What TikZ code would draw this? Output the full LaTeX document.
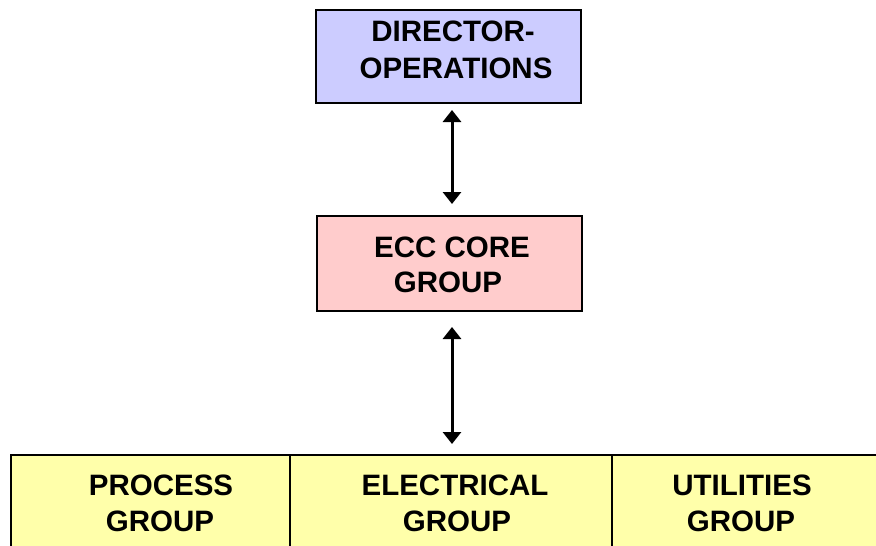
\documentclass[tikz,border=0pt]{standalone}
\usepackage{fontspec}
\setmainfont{Liberation Sans}
\usetikzlibrary{arrows.meta}
\definecolor{lav}{RGB}{204,204,255}
\definecolor{pinkc}{RGB}{255,204,204}
\definecolor{yel}{RGB}{255,255,170}
\begin{document}
\begin{tikzpicture}[x=1pt,y=-1pt,
  box/.style={draw=black,line width=2pt,inner sep=0pt,anchor=north west},
  lbl/.style={anchor=base,font=\fontsize{29.5}{34}\selectfont\bfseries,inner sep=0pt},
  link/.style={line width=3pt,{Triangle[width=18pt,length=12pt]}-{Triangle[width=18pt,length=12pt]}}]
\clip (0,0) rectangle (876,546);
\fill[white] (0,0) rectangle (876,546);
% boxes
\node[box,fill=lav,minimum width=265pt,minimum height=93pt] (dir) at (315,9) {};
\node[box,fill=pinkc,minimum width=265pt,minimum height=95pt] (ecc) at (316,215) {};
\node[box,fill=yel,minimum width=279pt,minimum height=96pt] (proc) at (10,454) {};
\node[box,fill=yel,minimum width=322pt,minimum height=96pt] (elec) at (289,454) {};
\node[box,fill=yel,minimum width=268pt,minimum height=96pt] (util) at (611,454) {};
% labels
\node[lbl] (d1) at (453,41.7) {DIRECTOR-};
\node[lbl] (d2) at (456,78) {OPERATIONS};
\node[lbl] (e1) at (452,257) {ECC CORE};
\node[lbl] (e2) at (448,292) {GROUP};
\node[lbl] (p1) at (161,495) {PROCESS};
\node[lbl] (p2) at (160,531) {GROUP};
\node[lbl] (l1) at (455,495) {ELECTRICAL};
\node[lbl] (l2) at (457,531) {GROUP};
\node[lbl] (u1) at (742,495) {UTILITIES};
\node[lbl] (u2) at (741,531) {GROUP};
% connectors
\draw[link,shorten <=6pt,shorten >=11pt] ([xshift=3.5pt]dir.south) -- ([xshift=3.5pt]dir.south |- ecc.north);
\draw[link,shorten <=15pt,shorten >=10pt] ([xshift=3.5pt]dir.south |- ecc.south) -- ([xshift=3.5pt]dir.south |- elec.north);
\end{tikzpicture}
\end{document}
